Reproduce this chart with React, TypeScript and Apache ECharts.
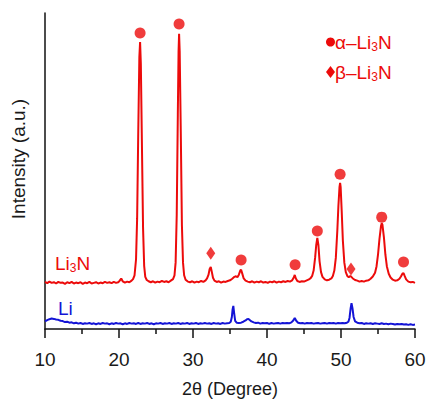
import React, { useEffect, useRef } from "react";
import * as echarts from "echarts";

// 2θ (degree) / intensity (a.u.) pairs of the Li3N diffraction pattern
const li3nPattern: [number, number][] = [
  [10.0, 14.9], [10.3, 14.5], [10.6, 15.0], [10.9, 14.6], [11.2, 14.8], [11.5, 14.4],
  [11.8, 14.9], [12.1, 14.6], [12.4, 14.7], [12.7, 14.3], [13.0, 14.8], [13.3, 14.5],
  [13.6, 14.9], [13.9, 14.4], [14.2, 14.7], [14.5, 14.5], [14.8, 14.8], [15.1, 14.3],
  [15.4, 14.7], [15.7, 14.5], [16.0, 14.9], [16.3, 14.4], [16.6, 14.6], [16.9, 14.8],
  [17.2, 14.4], [17.5, 14.7], [17.8, 14.5], [18.1, 14.9], [18.4, 14.6], [18.7, 14.8],
  [19.0, 14.5], [19.3, 14.9], [19.6, 14.6], [19.9, 14.8], [20.1, 15.3], [20.3, 16.0],
  [20.5, 15.1], [20.8, 14.7], [21.1, 15.0], [21.4, 14.8], [21.7, 15.3], [21.9, 15.8],
  [22.1, 17.0], [22.3, 22.0], [22.45, 35.0], [22.6, 62.0], [22.75, 86.0], [22.85, 90.8],
  [22.95, 84.0], [23.1, 58.0], [23.25, 32.0], [23.4, 20.0], [23.55, 16.5], [23.75, 15.5],
  [24.0, 15.1], [24.3, 14.8], [24.6, 15.1], [24.9, 14.7], [25.2, 15.0], [25.5, 14.8],
  [25.8, 15.2], [26.1, 14.9], [26.4, 15.1], [26.7, 14.8], [27.0, 15.3], [27.3, 15.8],
  [27.5, 17.0], [27.65, 21.0], [27.8, 36.0], [27.95, 68.0], [28.05, 88.0], [28.12, 93.4],
  [28.2, 88.0], [28.35, 62.0], [28.5, 33.0], [28.65, 21.0], [28.8, 17.0], [29.0, 15.6],
  [29.3, 15.0], [29.6, 14.8], [29.9, 15.1], [30.2, 14.7], [30.5, 15.0], [30.8, 14.8],
  [31.1, 15.2], [31.4, 14.9], [31.7, 15.4], [31.9, 16.0], [32.1, 17.2], [32.25, 19.0],
  [32.4, 19.6], [32.55, 18.0], [32.7, 16.2], [32.9, 15.3], [33.2, 14.9], [33.5, 15.1],
  [33.8, 14.7], [34.1, 15.0], [34.4, 14.9], [34.7, 15.2], [35.0, 15.4], [35.3, 15.9],
  [35.6, 16.5], [35.8, 16.7], [36.0, 16.4], [36.2, 17.2], [36.4, 18.6], [36.5, 18.7],
  [36.65, 17.6], [36.85, 16.0], [37.1, 15.3], [37.4, 15.0], [37.7, 14.8], [38.0, 15.1],
  [38.3, 14.7], [38.6, 15.0], [38.9, 14.8], [39.2, 15.1], [39.5, 14.7], [39.8, 14.9],
  [40.1, 14.6], [40.4, 15.0], [40.7, 14.8], [41.0, 15.1], [41.3, 14.7], [41.6, 15.0],
  [41.9, 14.8], [42.2, 15.1], [42.5, 14.9], [42.8, 15.2], [43.1, 15.0], [43.4, 15.4],
  [43.6, 16.2], [43.75, 17.1], [43.9, 16.0], [44.1, 15.2], [44.4, 14.9], [44.7, 15.1],
  [45.0, 15.0], [45.3, 15.3], [45.6, 15.6], [45.9, 16.1], [46.1, 16.8], [46.3, 18.5],
  [46.5, 22.5], [46.65, 26.5], [46.8, 28.8], [46.95, 26.5], [47.1, 21.5], [47.3, 18.0],
  [47.5, 16.5], [47.8, 15.7], [48.1, 15.4], [48.4, 15.6], [48.7, 16.0], [48.9, 16.8],
  [49.1, 18.5], [49.3, 22.5], [49.5, 31.0], [49.65, 39.0], [49.8, 45.0], [49.88, 46.2],
  [49.95, 45.0], [50.1, 37.0], [50.25, 28.0], [50.45, 21.0], [50.65, 18.0], [50.85, 16.8],
  [51.05, 16.4], [51.25, 16.8], [51.4, 16.5], [51.6, 16.0], [51.9, 15.5], [52.2, 15.3],
  [52.5, 15.0], [52.8, 15.2], [53.1, 15.0], [53.4, 15.3], [53.7, 15.4], [54.0, 15.9],
  [54.3, 16.6], [54.6, 17.8], [54.8, 19.8], [55.0, 23.5], [55.2, 28.5], [55.4, 32.5],
  [55.5, 33.5], [55.6, 33.0], [55.8, 29.0], [56.0, 23.5], [56.2, 19.8], [56.45, 17.5],
  [56.7, 16.3], [57.0, 15.6], [57.3, 15.3], [57.6, 15.4], [57.9, 15.9], [58.1, 16.6],
  [58.3, 17.5], [58.45, 17.7], [58.6, 16.8], [58.8, 15.7], [59.1, 15.0], [59.4, 14.8],
  [59.7, 14.9], [60.0, 14.6],
];

// 2θ (degree) / intensity (a.u.) pairs of the Li metal pattern
const liPattern: [number, number][] = [
  [10.0, 2.4], [10.3, 2.8], [10.6, 3.1], [10.9, 3.3], [11.2, 3.2], [11.5, 3.0],
  [11.8, 2.9], [12.1, 2.6], [12.4, 2.5], [12.7, 2.2], [13.0, 2.3], [13.3, 2.0],
  [13.6, 2.1], [13.9, 1.8], [14.2, 2.0], [14.5, 1.7], [14.8, 1.9], [15.1, 1.6],
  [15.4, 1.8], [15.7, 1.7], [16.0, 1.9], [16.3, 1.6], [16.6, 1.8], [16.9, 1.5],
  [17.2, 1.8], [17.5, 1.6], [17.8, 1.9], [18.1, 1.7], [18.4, 1.8], [18.7, 1.5],
  [19.0, 1.8], [19.3, 1.6], [19.6, 1.9], [19.9, 1.7], [20.2, 1.8], [20.5, 1.5],
  [20.8, 1.8], [21.1, 1.6], [21.4, 1.9], [21.7, 1.7], [22.0, 1.8], [22.3, 1.6],
  [22.6, 1.9], [22.9, 1.6], [23.2, 1.8], [23.5, 1.7], [23.8, 1.9], [24.1, 1.6],
  [24.4, 1.8], [24.7, 1.5], [25.0, 1.8], [25.3, 1.7], [25.6, 1.9], [25.9, 1.6],
  [26.2, 1.8], [26.5, 1.7], [26.8, 1.9], [27.1, 1.6], [27.4, 1.8], [27.7, 1.7],
  [28.0, 1.9], [28.3, 1.6], [28.6, 1.8], [28.9, 1.7], [29.2, 1.9], [29.5, 1.6],
  [29.8, 1.8], [30.1, 1.7], [30.4, 1.9], [30.7, 1.6], [31.0, 1.8], [31.3, 1.7],
  [31.6, 1.9], [31.9, 1.7], [32.2, 1.8], [32.5, 1.6], [32.8, 1.9], [33.1, 1.7],
  [33.4, 1.8], [33.7, 1.6], [34.0, 1.9], [34.3, 1.7], [34.6, 1.8], [34.9, 1.9],
  [35.1, 2.3], [35.25, 3.8], [35.35, 6.2], [35.45, 7.3], [35.55, 5.2], [35.7, 2.6],
  [35.9, 2.0], [36.2, 1.9], [36.5, 2.0], [36.8, 2.3], [37.1, 2.7], [37.3, 3.1],
  [37.5, 3.2], [37.7, 2.8], [37.9, 2.4], [38.2, 2.1], [38.5, 1.9], [38.8, 2.0],
  [39.1, 1.7], [39.4, 1.9], [39.7, 1.8], [40.0, 1.9], [40.3, 1.6], [40.6, 1.9],
  [40.9, 1.7], [41.2, 1.8], [41.5, 1.9], [41.8, 1.7], [42.1, 1.9], [42.4, 1.8],
  [42.7, 1.9], [43.0, 1.8], [43.3, 2.1], [43.55, 2.7], [43.75, 3.5], [43.95, 2.6],
  [44.2, 2.0], [44.5, 1.8], [44.8, 1.9], [45.1, 1.7], [45.4, 1.9], [45.7, 1.8],
  [46.0, 1.9], [46.3, 1.7], [46.6, 1.8], [46.9, 1.9], [47.2, 1.7], [47.5, 1.8],
  [47.8, 1.9], [48.1, 1.7], [48.4, 1.9], [48.7, 1.8], [49.0, 1.9], [49.3, 1.7],
  [49.6, 1.9], [49.9, 1.8], [50.2, 1.9], [50.5, 1.8], [50.8, 2.0], [51.0, 2.3],
  [51.15, 3.5], [51.3, 6.5], [51.42, 8.2], [51.55, 6.6], [51.7, 3.8], [51.9, 2.4],
  [52.2, 2.0], [52.5, 1.8], [52.8, 1.9], [53.1, 1.6], [53.4, 1.8], [53.7, 1.7],
  [54.0, 1.8], [54.3, 1.6], [54.6, 1.8], [54.9, 1.7], [55.2, 1.6], [55.5, 1.8],
  [55.8, 1.6], [56.1, 1.7], [56.4, 1.5], [56.7, 1.7], [57.0, 1.6], [57.3, 1.4],
  [57.6, 1.6], [57.9, 1.5], [58.2, 1.6], [58.5, 1.4], [58.8, 1.5], [59.1, 1.3],
  [59.4, 1.5], [59.7, 1.3], [60.0, 1.4],
];

// reflection markers placed above the peaks
const alphaMarks: [number, number][] = [
  [22.85, 93.7], [28.12, 96.5], [36.5, 21.8], [43.8, 20.3],
  [46.8, 31.0], [49.88, 49.0], [55.5, 35.4], [58.45, 21.2],
];
const betaMarks: [number, number][] = [
  [32.4, 24.0], [51.35, 19.0],
];

const xTicks = { min: 10, max: 60, step: 10 };

const RED = "#ec0b0b";
const BLUE = "#1414d6";
const FONT = "Liberation Sans, Arial, sans-serif";
const FS = 19;

// rich-text styles for formulas with a subscript digit (graphic text uses fill)
const subRich = (color: string) => ({
  a: { fontSize: FS, fontFamily: FONT, fill: color },
  s: { fontSize: 12, fontFamily: FONT, fill: color, padding: [9, 0, 0, 0] },
});

export default function App() {
  const ref = useRef<HTMLDivElement>(null);

  useEffect(() => {
    document.body.style.margin = "0";
    if (!ref.current) return;
    const chart = echarts.init(ref.current, undefined, { renderer: "svg" });
    chart.setOption({
      animation: false,
      backgroundColor: "#ffffff",
      grid: { left: 45, right: 11, top: 13, bottom: 70, outerBoundsMode: "none" },
      xAxis: {
        type: "value",
        min: xTicks.min,
        max: xTicks.max,
        interval: xTicks.step,
        name: "2θ (Degree)",
        nameLocation: "middle",
        nameGap: 52,
        nameTextStyle: { fontSize: 18, lineHeight: 15, fontFamily: FONT, color: "#1a1a1a" },
        axisLine: { show: true, onZero: false, lineStyle: { color: "#111", width: 1.5 } },
        axisTick: { show: true, inside: false, length: 9, lineStyle: { color: "#111", width: 1.5 } },
        minorTick: { show: true, splitNumber: 2, length: 5, lineStyle: { color: "#111", width: 1.5 } },
        axisLabel: { fontSize: FS, fontFamily: FONT, color: "#1a1a1a", margin: 21 },
        splitLine: { show: false },
      },
      yAxis: {
        type: "value",
        min: 0,
        max: 100,
        axisLine: { show: true, lineStyle: { color: "#111", width: 1.5 } },
        axisTick: { show: false },
        axisLabel: { show: false },
        splitLine: { show: false },
      },
      series: [
        {
          type: "line",
          data: li3nPattern,
          showSymbol: false,
          lineStyle: { color: RED, width: 2 },
          z: 3,
        },
        {
          type: "line",
          data: liPattern,
          showSymbol: false,
          lineStyle: { color: BLUE, width: 2 },
          z: 3,
        },
        {
          type: "scatter",
          data: alphaMarks,
          symbol: "circle",
          symbolSize: 11,
          itemStyle: { color: RED },
          z: 4,
        },
        {
          type: "scatter",
          data: betaMarks,
          symbol: "diamond",
          symbolSize: [9, 13],
          itemStyle: { color: RED },
          z: 4,
        },
      ],
      graphic: [
        {
          type: "text",
          x: 18,
          y: 159,
          rotation: Math.PI / 2,
          style: {
            text: "Intensity (a.u.)",
            fontSize: FS,
            fontFamily: FONT,
            fill: "#1a1a1a",
            align: "center",
            verticalAlign: "middle",
          },
        },
        {
          type: "text",
          x: 55,
          y: 263,
          style: {
            text: "{a|Li}{s|3}{a|N}",
            rich: subRich(RED),
            fill: RED,
            align: "left",
            verticalAlign: "middle",
          },
        },
        {
          type: "text",
          x: 58,
          y: 308,
          style: {
            text: "{a|Li}",
            rich: subRich(BLUE),
            fill: BLUE,
            align: "left",
            verticalAlign: "middle",
          },
        },
        {
          type: "circle",
          shape: { cx: 330.5, cy: 42, r: 4.5 },
          style: { fill: RED },
        },
        {
          type: "text",
          x: 335,
          y: 42,
          style: {
            text: "{a|α–Li}{s|3}{a|N}",
            rich: subRich(RED),
            fill: RED,
            align: "left",
            verticalAlign: "middle",
          },
        },
        {
          type: "polygon",
          shape: { points: [[330.5, 66], [335, 72], [330.5, 78], [326, 72]] },
          style: { fill: RED },
        },
        {
          type: "text",
          x: 335,
          y: 72,
          style: {
            text: "{a|β–Li}{s|3}{a|N}",
            rich: subRich(RED),
            fill: RED,
            align: "left",
            verticalAlign: "middle",
          },
        },
      ],
    });
    return () => chart.dispose();
  }, []);

  return <div ref={ref} style={{ width: 426, height: 399 }} />;
}
